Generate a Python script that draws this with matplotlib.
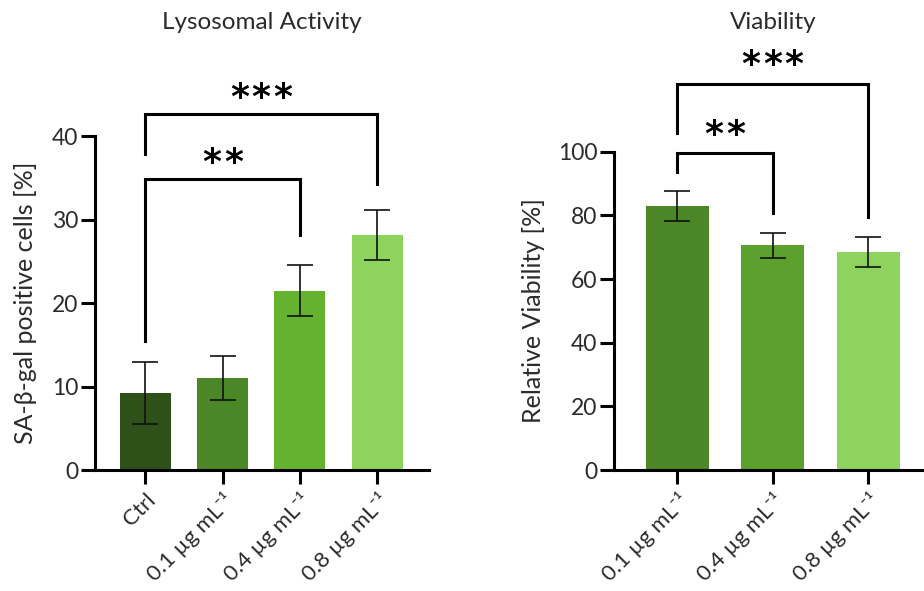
import matplotlib
matplotlib.use("Agg")
import matplotlib.pyplot as plt

plt.rcParams['font.family'] = ['Lato', 'DejaVu Sans']

# Lysosomal activity (SA-beta-gal positive cells, %)
lyso_labels = ["Ctrl", "0.1 µg mL⁻¹", "0.4 µg mL⁻¹", "0.8 µg mL⁻¹"]
lyso_mean = [9.2, 11.0, 21.5, 28.2]
lyso_err = [3.7, 2.6, 3.0, 3.0]
lyso_colors = ["#2e5119", "#4b8726", "#64b230", "#8fd35f"]

# Relative viability (%)
via_labels = ["0.1 µg mL⁻¹", "0.4 µg mL⁻¹", "0.8 µg mL⁻¹"]
via_mean = [82.9, 70.6, 68.6]
via_err = [4.8, 4.0, 4.7]
via_colors = ["#4b8726", "#5ca02d", "#8fd35f"]

# significance brackets: (left bar, right bar, bar height, left leg end, right leg end, stars)
lyso_sig = [(0, 2, 34.8, 15.4, 28.1, 2), (0, 3, 42.6, 37.8, 34.2, 3)]
via_sig = [(0, 1, 99.5, 93.7, 80.6, 2), (0, 2, 121.3, 105.8, 79.4, 3)]

TXT = "#2b2b2b"
LW = 2.2
STAR_GAP = 15.5  # points between neighbouring asterisks

fig = plt.figure(figsize=(9.24, 5.91), dpi=100)
ax1 = fig.add_axes([0.1028, 0.2047, 0.3615, 0.5651])
ax2 = fig.add_axes([0.6645, 0.2047, 0.3445, 0.5386])


def draw_panel(ax, labels, mean, err, colors, sig, ymax, ystep, xlim,
               title, title_y, ylabel, ylabel_x, star_off):
    x = list(range(len(mean)))
    ax.bar(x, mean, width=0.66, color=colors, zorder=2)
    ax.errorbar(x, mean, yerr=err, fmt="none", ecolor="#111111", elinewidth=1.2,
                capsize=9.4, capthick=1.2, zorder=3)
    ax.set_xlim(*xlim)
    ax.set_ylim(0, ymax)
    ax.set_yticks(range(0, ymax + 1, ystep))
    ax.set_xticks(x)
    ax.set_xticklabels(labels, rotation=45, ha="right", va="top",
                       rotation_mode="anchor", fontsize=16, color=TXT)
    for lab in ax.get_yticklabels():
        lab.set_fontsize(16.5)
        lab.set_color(TXT)
    ax.tick_params(axis="both", length=10, width=LW, color="black", pad=2)
    ax.tick_params(axis="x", pad=4)
    for s in ["top", "right"]:
        ax.spines[s].set_visible(False)
    for s in ["left", "bottom"]:
        ax.spines[s].set_linewidth(LW)
    ax.set_ylabel(ylabel, fontsize=18, color=TXT)
    ax.yaxis.set_label_coords(ylabel_x, 0.5)
    ax.text(0.5, title_y, title, transform=ax.transAxes, ha="center",
            va="center", fontsize=17.5, color=TXT)
    for (i, j, h, yl, yr, n) in sig:
        ax.plot([i, i, j, j], [yl, h, h, yr], color="black", lw=LW,
                clip_on=False, solid_joinstyle="miter", zorder=4)
        cx = (i + j) / 2
        for k in range(n):
            dx = (k - (n - 1) / 2) * STAR_GAP
            ax.annotate("*", xy=(cx, h + star_off), xytext=(dx, 0),
                        textcoords="offset points", ha="center", va="center",
                        fontsize=26, fontweight="bold", color="black",
                        family="DejaVu Sans", annotation_clip=False)


draw_panel(ax1, lyso_labels, lyso_mean, lyso_err, lyso_colors, lyso_sig,
           40, 10, (-0.65, 3.67), "Lysosomal Activity", (470 - 22) / 334,
           "SA-β-gal positive cells [%]", -0.174, 2.0)
draw_panel(ax2, via_labels, via_mean, via_err, via_colors, via_sig,
           100, 20, (-0.66, 2.67), "Viability", (470 - 22) / (470 - 151.7),
           "Relative Viability [%]", -0.217, 5.8)

fig.savefig("out.png", dpi=100)
